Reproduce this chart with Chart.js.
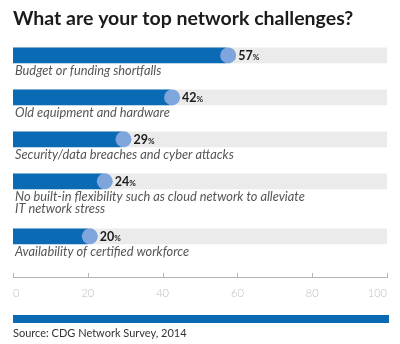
<!DOCTYPE html>
<html><head><meta charset="utf-8">
<script src="https://cdn.jsdelivr.net/npm/chart.js@4/dist/chart.umd.min.js"></script>
<style>html,body{margin:0;padding:0;background:#fff}canvas{display:block}</style>
</head><body>
<canvas id="c" width="400" height="344"></canvas>
<script>
const title = "What are your top network challenges?";
const categories = [
  ["Budget or funding shortfalls"],
  ["Old equipment and hardware"],
  ["Security/data breaches and cyber attacks"],
  ["No built-in flexibility such as cloud network to alleviate", "IT network stress"],
  ["Availability of certified workforce"]
];
const values = [57, 42, 29, 24, 20];
const trackValues = [100, 100, 100, 100, 100];
const xTicks = [0, 20, 40, 60, 80, 100];
const source = "Source: CDG Network Survey, 2014";

const BLUE = '#0b6ab4', DOT = '#7ea5dc', TRACK = '#ebebeb', AXIS = '#b4b4b4';
// row slots: each row takes a base height plus one line height per label line
const rowBase = 29, lineH = 13, firstRow = 15.5;
const rowPos = [];
categories.forEach((c, i) => {
  rowPos.push(i === 0 ? firstRow : rowPos[i - 1] + rowBase + lineH * categories[i - 1].length);
});

const decor = {
  id: 'decor',
  afterDraw(chart) {
    const ctx = chart.ctx, xs = chart.scales.x, ca = chart.chartArea;
    const meta = chart.getDatasetMeta(1);
    meta.data.forEach((bar, i) => {
      const cx = bar.x + 2, cy = bar.y;
      ctx.save();
      ctx.fillStyle = DOT;
      ctx.beginPath(); ctx.arc(cx, cy, 8, 0, Math.PI * 2); ctx.fill();
      // value label
      ctx.fillStyle = '#1c1c1c';
      ctx.textBaseline = 'alphabetic';
      ctx.font = 'bold 12.5px Lato';
      const num = String(values[i]);
      ctx.fillText(num, cx + 10, cy + 5);
      const w = ctx.measureText(num).width;
      ctx.font = 'bold 8px Lato';
      ctx.fillText('%', cx + 10 + w, cy + 5);
      // category label
      ctx.fillStyle = '#555555';
      ctx.font = 'italic 12.8px Lato';
      categories[i].forEach((line, k) => {
        ctx.fillText(line, ca.left + 2, cy + 19.5 + k * 12.5);
      });
      ctx.restore();
    });
    // axis line and upward tick marks
    ctx.save();
    ctx.fillStyle = AXIS;
    const yb = Math.round(ca.bottom);
    ctx.fillRect(ca.left, yb, ca.right - ca.left + 1, 1);
    xTicks.forEach(t => {
      const x = Math.round(xs.getPixelForValue(t));
      ctx.fillRect(x, yb - 4, 1, 4);
    });
    // footer bar and source
    ctx.fillStyle = BLUE;
    ctx.fillRect(ca.left, 315, ca.right - ca.left + 2, 8);
    ctx.fillStyle = '#333333';
    ctx.font = '11px Lato';
    ctx.textBaseline = 'middle';
    ctx.fillText(source, ca.left, 333);
    ctx.restore();
  }
};

new Chart(document.getElementById('c'), {
  type: 'bar',
  data: {
    datasets: [
      { data: trackValues.map((v, i) => ({ x: v, y: rowPos[i] })), backgroundColor: TRACK, barThickness: 15, grouped: false, order: 2 },
      { data: values.map((v, i) => ({ x: v, y: rowPos[i] })), backgroundColor: BLUE, barThickness: 15, grouped: false, order: 1 }
    ]
  },
  options: {
    indexAxis: 'y',
    responsive: false,
    animation: false,
    devicePixelRatio: 1,
    layout: { padding: { left: 13, right: 13, top: 0, bottom: 34 } },
    plugins: {
      legend: { display: false },
      tooltip: { enabled: false },
      title: {
        display: true, text: title, align: 'start', color: '#1b1b1b',
        font: { family: 'Lato', weight: 'bold', size: 19.5 },
        padding: { top: 7, bottom: 9.5 }
      }
    },
    scales: {
      y: { type: 'linear', reverse: true, min: 0, max: 237, display: false, offset: false },
      x: {
        type: 'linear', min: 0, max: 100,
        afterBuildTicks: s => { s.ticks = xTicks.map(v => ({ value: v })); },
        grid: { display: false, drawTicks: false },
        border: { display: false },
        ticks: { align: 'inner', padding: 10, color: '#bdbdbd', font: { family: 'Lato', size: 11, weight: '300' } }
      }
    }
  },
  plugins: [decor]
});
</script>
</body></html>
